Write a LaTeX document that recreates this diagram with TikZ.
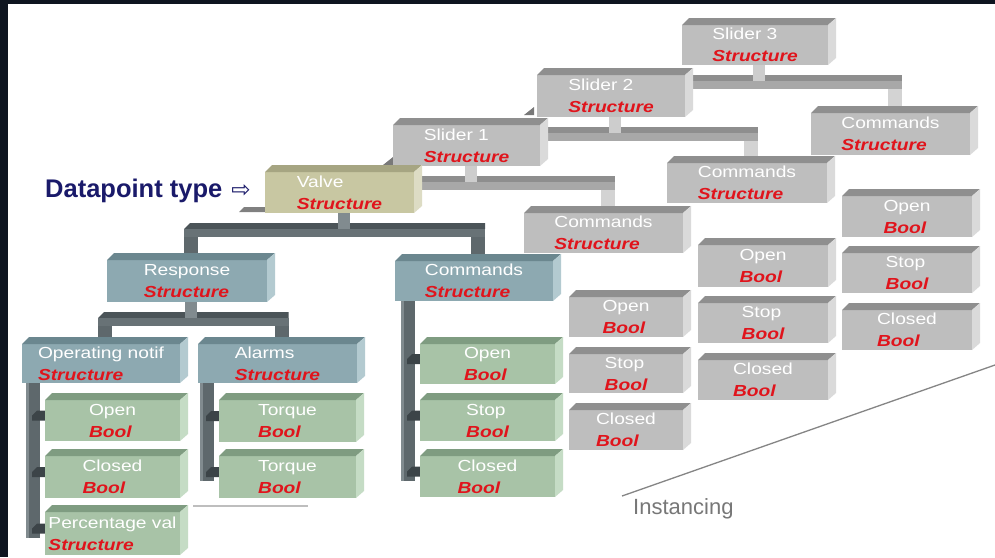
\documentclass[tikz,border=0pt]{standalone}
\usepackage{fontspec}
\setmainfont{Liberation Sans}[FakeStretch=1.2]
\newfontfamily\plainsans{Liberation Sans}
\newfontfamily\arrowfont{DejaVu Sans}
\usetikzlibrary{calc}
\pgfdeclarelayer{paper}
\pgfdeclarelayer{conn}
\pgfsetlayers{paper,conn,main}

\definecolor{frame}{HTML}{0E1520}
\definecolor{gyF}{HTML}{BEBEBE}
\definecolor{gyT}{HTML}{8F8F8F}
\definecolor{gyS}{HTML}{DADADA}
\definecolor{khF}{HTML}{C8C7A2}
\definecolor{khT}{HTML}{A6A582}
\definecolor{khS}{HTML}{DDDCC4}
\definecolor{tlF}{HTML}{8DA9B1}
\definecolor{tlT}{HTML}{6B878F}
\definecolor{tlS}{HTML}{B3CAD0}
\definecolor{grF}{HTML}{A8C3A7}
\definecolor{grT}{HTML}{7F9C81}
\definecolor{grS}{HTML}{C5DCC5}
\definecolor{dkT}{HTML}{4B5458}
\definecolor{dkF}{HTML}{687276}
\definecolor{dkL}{HTML}{5E686C}
\definecolor{dkU}{HTML}{818B8F}
\definecolor{dkJ}{HTML}{3C4448}
\definecolor{lgT}{HTML}{8E8E8E}
\definecolor{lgF}{HTML}{A8A8A8}
\definecolor{lgL}{HTML}{D3D3D3}
\definecolor{lgU}{HTML}{CDCDCD}
\definecolor{tred}{HTML}{E0141C}
\definecolor{navy}{HTML}{1A1A6A}
\definecolor{instgray}{HTML}{777777}

\tikzset{
  boxfront/.style={inner sep=0pt, outer sep=0pt, align=left, text=white,
    font={\fontsize{16}{22}\selectfont}},
  instline/.style={draw=instgray!90, line width=1.3pt},
  shadowline/.style={draw=gyF, line width=2pt},
}

\newcommand\typ[1]{{\color{tred}\bfseries\itshape #1}}

% 3D box: name, x1, y1, x2, y2, colour family, name text, type text
\newcommand\dbox[8]{%
  \pgfmathsetmacro\bxc{(#2+#4)/2}%
  \pgfmathsetmacro\byc{(#3+#5)/2}%
  \pgfmathsetmacro\bw{#4-#2}%
  \pgfmathsetmacro\bh{#5-#3}%
  \node[boxfront, fill=#6F, minimum width=\bw pt, minimum height=\bh pt] (#1) at (\bxc,\byc) {#7\\\typ{#8}};
  \fill[#6T] (#1.north west) -- ++(7,-7) -- ([shift={(8,-7)}]#1.north east) -- (#1.north east) -- cycle;
  \fill[#6S] (#1.north east) -- ++(8,-7) -- ([shift={(8,-7)}]#1.south east) -- (#1.south east) -- cycle;
}

% tree connector: parent, left child, right child
\newcommand\tconn[3]{%
  \coordinate (L) at ($(#2 |- #1.south)+(0,10)$);
  \coordinate (R) at ($(#3 |- #1.south)+(0,10)$);
  \fill[dkL] ($(L)+(-3,6)$) rectangle ($(#2.north)+(11,0)$);
  \fill[dkL] ($(R)+(-3,6)$) rectangle ($(#3.north)+(11,0)$);
  \fill[dkT] ($(L)+(-3,6)$) -- ($(L)+(3,0)$) -- ($(R)+(11,0)$) -- ($(R)+(11,6)$) -- cycle;
  \fill[dkF] ($(L)+(-3,6)$) rectangle ($(R)+(11,14)$);
  \fill[dkU] ($(#1.south)+(-2,0)$) rectangle ($(#1.south)+(10,16)$);
}

% instance connector: parent, visible child (left branch hidden)
\newcommand\sconn[2]{%
  \coordinate (L) at ($(#1.south)+(-100,10)$);
  \coordinate (R) at ($(#2 |- #1.south)+(0,10)$);
  \fill[lgL] ($(R)+(-3,6)$) rectangle ($(#2.north)+(11,0)$);
  \fill[lgT] (L) -- ($(R)+(11,0)$) -- ($(R)+(11,6)$) -- ($(L)+(0,6)$) -- cycle;
  \fill[lgF] ($(L)+(0,6)$) rectangle ($(R)+(11,14)$);
  \fill[lgU] ($(#1.south)+(-2,0)$) rectangle ($(#1.south)+(10,16)$);
}

% comb connector: parent, last child, list of children
\newcommand\comb[3]{%
  \fill[dkL] ($(#1.south -| #2.west)+(-19,0)$) rectangle ($(#2.west)+(-5,4)$);
  \fill[dkU] ($(#1.south -| #2.west)+(-19,0)$) rectangle ($(#2.west)+(-16,4)$);
  \foreach \c in {#3} {%
    \fill[dkJ] ($(\c.west)+(-13,-5)$) -- ($(\c.west)+(-8,-10)$) -- ($(\c.west)+(0,-10)$)
      -- ($(\c.west)+(0,0)$) -- ($(\c.west)+(-13,0)$) -- cycle;}
}

\begin{document}
\begin{tikzpicture}[x=1pt, y=-1pt]
\useasboundingbox (0,0) rectangle (995,557);
\begin{pgfonlayer}{paper}
  \fill[white] (0,0) rectangle (995,557);
  \fill[frame] (0,0) rectangle (995,4);
  \fill[frame] (0,0) rectangle (8,557);
\end{pgfonlayer}

% ---- instance Slider 3
\dbox{s3}{682}{25}{828}{65}{gy}{Slider 3}{Structure}
\dbox{s3c}{811}{113}{970}{155}{gy}{Commands}{Structure}
\dbox{s3o}{842}{196}{972}{237}{gy}{Open}{Bool}
\dbox{s3s}{842}{253}{972}{293}{gy}{Stop}{Bool}
\dbox{s3cl}{842}{310}{972}{350}{gy}{Closed}{Bool}
% ---- instance Slider 2
\dbox{s2}{537}{75}{685}{117}{gy}{Slider 2}{Structure}
\dbox{s2c}{667}{163}{827}{203}{gy}{Commands}{Structure}
\dbox{s2o}{698}{245}{828}{287}{gy}{Open}{Bool}
\dbox{s2s}{698}{303}{828}{343}{gy}{Stop}{Bool}
\dbox{s2cl}{698}{360}{828}{400}{gy}{Closed}{Bool}
% ---- instance Slider 1
\dbox{s1}{393}{125}{540}{166}{gy}{Slider 1}{Structure}
\dbox{s1c}{524}{213}{683}{253}{gy}{Commands}{Structure}
\dbox{s1o}{569}{297}{683}{337}{gy}{Open}{Bool}
\dbox{s1s}{569}{354}{683}{393}{gy}{Stop}{Bool}
\dbox{s1cl}{569}{410}{683}{450}{gy}{Closed}{Bool}
% ---- datapoint type Valve
\dbox{valve}{265}{172}{414}{213}{kh}{Valve}{Structure}
\dbox{resp}{107}{260}{267}{302}{tl}{Response}{Structure}
\dbox{cmd}{395}{261}{553}{301}{tl}{Commands}{Structure}
\dbox{opn}{22}{344}{180}{383}{tl}{Operating notif}{Structure}
\dbox{alm}{198}{344}{357}{383}{tl}{Alarms}{Structure}
\dbox{o1}{45}{400}{180}{441}{gr}{Open}{Bool}
\dbox{c1}{45}{456}{180}{498}{gr}{Closed}{Bool}
\dbox{p1}{45}{512}{180}{555}{gr}{Percentage val}{Structure}
\dbox{t1}{219}{400}{356}{442}{gr}{Torque}{Bool}
\dbox{t2}{219}{456}{356}{498}{gr}{Torque}{Bool}
\dbox{co}{420}{344}{555}{384}{gr}{Open}{Bool}
\dbox{cs}{420}{400}{555}{441}{gr}{Stop}{Bool}
\dbox{cc}{420}{456}{555}{497}{gr}{Closed}{Bool}

\begin{pgfonlayer}{conn}
  \sconn{s3}{s3c}
  \sconn{s2}{s2c}
  \sconn{s1}{s1c}
  \tconn{valve}{resp}{cmd}
  \tconn{resp}{opn}{alm}
  \comb{opn}{p1}{o1,c1,p1}
  \comb{alm}{t2}{t1,t2}
  \comb{cmd}{cc}{co,cs,cc}
  % small slivers of hidden bars
  \fill[lgT!90!black] (239,212) -- (244,207) -- (266,207) -- (266,212) -- cycle;
  \fill[lgT!85!black] (383,165) -- (393,157) -- (393,165) -- cycle;
  \fill[lgT!85!black] (524,115) -- (534,107) -- (534,115) -- cycle;
\end{pgfonlayer}

\draw[shadowline] (193,506) -- (308,506);

\node[anchor=base west, text=navy, inner sep=0pt,
  font={\plainsans\bfseries\fontsize{25.5}{30}\selectfont}] (dp) at (45,197)
  {Datapoint type\hspace{9pt}{\arrowfont\mdseries\fontsize{23}{26}\selectfont ⇨}};

\coordinate (ia) at (622,496);
\coordinate (ib) at (995,365);
\draw[instline] (ia) -- (ib);
\node[anchor=base west, text=instgray, inner sep=0pt,
  font={\plainsans\fontsize{22}{26}\selectfont}] (inst) at (633,514) {Instancing};
\end{tikzpicture}
\end{document}
